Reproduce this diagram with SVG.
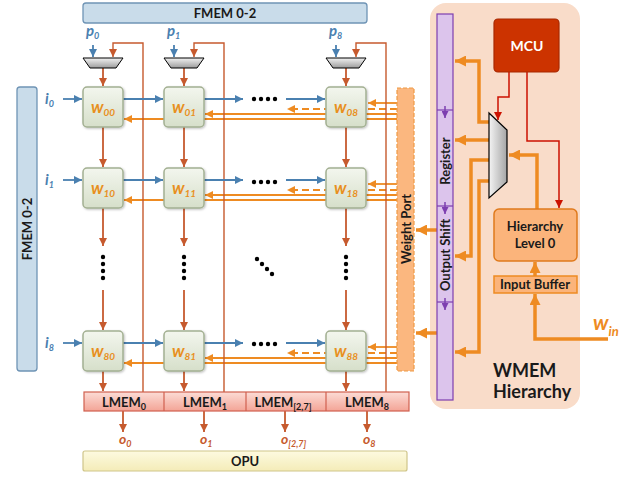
<svg xmlns="http://www.w3.org/2000/svg" width="633" height="480" viewBox="0 0 633 480">
<defs>
<style>
text{font-family:Lato,"Open Sans","Liberation Sans",sans-serif;font-weight:bold}
.bl{stroke:#4a80b0;stroke-width:1.8;fill:none}
.rd{stroke:#c65a2e;stroke-width:1.8;fill:none}
.fb{stroke:#c65a2e;stroke-width:1.4;fill:none}
.or{stroke:#ee8b22;stroke-width:1.8;fill:none}
.dash{stroke-dasharray:7,4}
.ot{stroke:#ee8b22;stroke-width:3.5;fill:none}
.mr{stroke:#cc1100;stroke-width:1.5;fill:none}
.node{fill:url(#gn);stroke:#a3b092;stroke-width:1.5;filter:url(#sh)}
.wl{fill:#e8901e;font-style:italic;font-size:17px}
.il{fill:#4a80b0;font-style:italic;font-size:15px}
.ol{fill:#c65a2e;font-style:italic;font-size:14px}
.dot{fill:#000}
.lbl{fill:#1a1a1a;font-size:13px}
</style>
<filter id="sh" x="-10%" y="-10%" width="130%" height="130%"><feDropShadow dx="1" dy="1" stdDeviation="0.8" flood-color="#000" flood-opacity="0.25"/></filter>
<linearGradient id="gn" x1="0" y1="0" x2="0" y2="1"><stop offset="0" stop-color="#f3f6ee"/><stop offset="1" stop-color="#d6dfca"/></linearGradient>
<linearGradient id="gm" x1="0" y1="0" x2="0" y2="1"><stop offset="0" stop-color="#f2f2f2"/><stop offset="1" stop-color="#9c9c9c"/></linearGradient>
<linearGradient id="gm2" x1="0" y1="0" x2="1" y2="0"><stop offset="0" stop-color="#f4f4f4"/><stop offset="1" stop-color="#a5a5a5"/></linearGradient>
<linearGradient id="gl" x1="0" y1="0" x2="0" y2="1"><stop offset="0" stop-color="#fcdcd6"/><stop offset="1" stop-color="#f3a496"/></linearGradient>
<linearGradient id="go" x1="0" y1="0" x2="0" y2="1"><stop offset="0" stop-color="#fdfae0"/><stop offset="1" stop-color="#f4ecb8"/></linearGradient>
<marker id="mb" viewBox="0 0 10 10" refX="10" refY="5" markerWidth="8" markerHeight="8" markerUnits="userSpaceOnUse" orient="auto"><path d="M0,0L10,5L0,10z" fill="#4a80b0"/></marker>
<marker id="mrr" viewBox="0 0 10 10" refX="10" refY="5" markerWidth="8" markerHeight="8" markerUnits="userSpaceOnUse" orient="auto"><path d="M0,0L10,5L0,10z" fill="#c65a2e"/></marker>
<marker id="mo" viewBox="0 0 10 10" refX="10" refY="5" markerWidth="8" markerHeight="8" markerUnits="userSpaceOnUse" orient="auto"><path d="M0,0L10,5L0,10z" fill="#ee8b22"/></marker>
<marker id="mot" viewBox="0 0 10 10" refX="10" refY="5" markerWidth="11" markerHeight="11" markerUnits="userSpaceOnUse" orient="auto"><path d="M0,0L10,5L0,10z" fill="#ee8b22"/></marker>
<marker id="mp" viewBox="0 0 10 10" refX="10" refY="5" markerWidth="7" markerHeight="7" markerUnits="userSpaceOnUse" orient="auto"><path d="M0,0L10,5L0,10z" fill="#7d3fb0"/></marker>
<marker id="mm" viewBox="0 0 10 10" refX="10" refY="5" markerWidth="8" markerHeight="8" markerUnits="userSpaceOnUse" orient="auto"><path d="M0,0L10,5L0,10z" fill="#cc1100"/></marker>
</defs>
<rect width="633" height="480" fill="#fff"/>

<g id="wmem-panel">
<rect x="430" y="3" width="150" height="406" rx="16" fill="#f9dcc9"/>
<text x="493" y="377" font-size="18" fill="#1a1a1a">WMEM</text>
<text x="493" y="398" font-size="18" fill="#1a1a1a">Hierarchy</text>
</g>

<g id="fmem-top"><rect x="83" y="3" width="284" height="20" rx="3" fill="#c9dcea" stroke="#6f94b5" stroke-width="1.3"/><text x="225" y="18" text-anchor="middle" class="lbl">FMEM 0-2</text></g>
<g id="fmem-left"><rect x="17" y="87" width="20" height="284" rx="3" fill="#c9dcea" stroke="#6f94b5" stroke-width="1.3"/><text transform="translate(32,229) rotate(-90)" text-anchor="middle" class="lbl">FMEM 0-2</text></g>

<g id="connectors">
<g class="or">
<line x1="397" y1="103" x2="368" y2="103" marker-end="url(#mo)"/>
<line x1="397" y1="109" x2="287" y2="109" class="or dash" marker-end="url(#mo)"/>
<line x1="397" y1="114" x2="205" y2="114" marker-end="url(#mo)"/>
<line x1="397" y1="119" x2="124" y2="119" marker-end="url(#mo)"/>
<line x1="397" y1="184" x2="368" y2="184" marker-end="url(#mo)"/>
<line x1="397" y1="190" x2="287" y2="190" class="or dash" marker-end="url(#mo)"/>
<line x1="397" y1="195" x2="205" y2="195" marker-end="url(#mo)"/>
<line x1="397" y1="200" x2="124" y2="200" marker-end="url(#mo)"/>
<line x1="397" y1="347" x2="368" y2="347" marker-end="url(#mo)"/>
<line x1="397" y1="353" x2="287" y2="353" class="or dash" marker-end="url(#mo)"/>
<line x1="397" y1="358" x2="205" y2="358" marker-end="url(#mo)"/>
<line x1="397" y1="363" x2="124" y2="363" marker-end="url(#mo)"/>
</g>
<path class="fb" d="M143,392V43H113V57" marker-end="url(#mrr)"/>
<path class="fb" d="M224,392V43H194V57" marker-end="url(#mrr)"/>
<path class="fb" d="M386,392V43H356V57" marker-end="url(#mrr)"/>
<line class="bl" x1="93" y1="45" x2="93" y2="57" marker-end="url(#mb)"/>
<line class="bl" x1="174" y1="45" x2="174" y2="57" marker-end="url(#mb)"/>
<line class="bl" x1="336" y1="45" x2="336" y2="57" marker-end="url(#mb)"/>
<g class="rd">
<line x1="103" y1="68" x2="103" y2="86" marker-end="url(#mrr)"/>
<line x1="103" y1="127" x2="103" y2="167" marker-end="url(#mrr)"/>
<line x1="103" y1="208" x2="103" y2="246" marker-end="url(#mrr)"/>
<line x1="103" y1="290" x2="103" y2="330" marker-end="url(#mrr)"/>
<line x1="103" y1="371" x2="103" y2="391" marker-end="url(#mrr)"/>
<line x1="184" y1="68" x2="184" y2="86" marker-end="url(#mrr)"/>
<line x1="184" y1="127" x2="184" y2="167" marker-end="url(#mrr)"/>
<line x1="184" y1="208" x2="184" y2="246" marker-end="url(#mrr)"/>
<line x1="184" y1="290" x2="184" y2="330" marker-end="url(#mrr)"/>
<line x1="184" y1="371" x2="184" y2="391" marker-end="url(#mrr)"/>
<line x1="346" y1="68" x2="346" y2="86" marker-end="url(#mrr)"/>
<line x1="346" y1="127" x2="346" y2="167" marker-end="url(#mrr)"/>
<line x1="346" y1="208" x2="346" y2="246" marker-end="url(#mrr)"/>
<line x1="346" y1="290" x2="346" y2="330" marker-end="url(#mrr)"/>
<line x1="346" y1="371" x2="346" y2="391" marker-end="url(#mrr)"/>
</g>
<g class="bl">
<line x1="63" y1="99" x2="82" y2="99" marker-end="url(#mb)"/>
<line x1="123" y1="99" x2="163" y2="99" marker-end="url(#mb)"/>
<line x1="204" y1="99" x2="243" y2="99" marker-end="url(#mb)"/>
<line x1="286" y1="99" x2="325" y2="99" marker-end="url(#mb)"/>
<line x1="63" y1="180" x2="82" y2="180" marker-end="url(#mb)"/>
<line x1="123" y1="180" x2="163" y2="180" marker-end="url(#mb)"/>
<line x1="204" y1="180" x2="243" y2="180" marker-end="url(#mb)"/>
<line x1="286" y1="180" x2="325" y2="180" marker-end="url(#mb)"/>
<line x1="63" y1="343" x2="82" y2="343" marker-end="url(#mb)"/>
<line x1="123" y1="343" x2="163" y2="343" marker-end="url(#mb)"/>
<line x1="204" y1="343" x2="243" y2="343" marker-end="url(#mb)"/>
<line x1="286" y1="343" x2="325" y2="343" marker-end="url(#mb)"/>
</g>
<g class="rd">
<line x1="123" y1="411" x2="123" y2="432" marker-end="url(#mrr)"/>
<line x1="204" y1="411" x2="204" y2="432" marker-end="url(#mrr)"/>
<line x1="285" y1="411" x2="285" y2="432" marker-end="url(#mrr)"/>
<line x1="367" y1="411" x2="367" y2="432" marker-end="url(#mrr)"/>
</g>
<g class="ot">
<path d="M489,122H479V61H455" marker-end="url(#mot)"/>
<path d="M489,140H455" marker-end="url(#mot)"/>
<path d="M489,160H471V256H455" marker-end="url(#mot)"/>
<path d="M489,181H479V352H455" marker-end="url(#mot)"/>
<path d="M537,209V155H509" marker-end="url(#mot)"/>
<path d="M437,230H416" marker-end="url(#mot)"/>
<path d="M437,333H416" marker-end="url(#mot)"/>
<path d="M535,276V262" marker-end="url(#mot)"/>
<path d="M608,339H535V294" marker-end="url(#mot)"/>
</g>
<path class="mr" d="M509,72V97H498V120" marker-end="url(#mm)"/>
<path class="mr" d="M527,72V141H559V208" marker-end="url(#mm)"/>
</g>

<g id="dots" class="dot">
<circle cx="254" cy="99" r="2.2"/><circle cx="261" cy="99" r="2.2"/><circle cx="268" cy="99" r="2.2"/><circle cx="275" cy="99" r="2.2"/>
<circle cx="254" cy="182" r="2.2"/><circle cx="261" cy="182" r="2.2"/><circle cx="268" cy="182" r="2.2"/><circle cx="275" cy="182" r="2.2"/>
<circle cx="254" cy="344" r="2.2"/><circle cx="261" cy="344" r="2.2"/><circle cx="268" cy="344" r="2.2"/><circle cx="275" cy="344" r="2.2"/>
<circle cx="103" cy="257" r="2.2"/><circle cx="103" cy="264" r="2.2"/><circle cx="103" cy="271" r="2.2"/><circle cx="103" cy="278" r="2.2"/>
<circle cx="184" cy="257" r="2.2"/><circle cx="184" cy="264" r="2.2"/><circle cx="184" cy="271" r="2.2"/><circle cx="184" cy="278" r="2.2"/>
<circle cx="346" cy="257" r="2.2"/><circle cx="346" cy="264" r="2.2"/><circle cx="346" cy="271" r="2.2"/><circle cx="346" cy="278" r="2.2"/>
<circle cx="257" cy="259" r="2.2"/><circle cx="262" cy="264" r="2.2"/><circle cx="267" cy="269" r="2.2"/><circle cx="272" cy="274" r="2.2"/>
</g>

<g id="labels">
<text x="86" y="36" class="il">p<tspan font-size="9" dy="3">0</tspan></text>
<text x="167" y="36" class="il">p<tspan font-size="9" dy="3">1</tspan></text>
<text x="329" y="36" class="il">p<tspan font-size="9" dy="3">8</tspan></text>
<text x="45" y="104" class="il">i<tspan font-size="9" dy="3">0</tspan></text>
<text x="45" y="185" class="il">i<tspan font-size="9" dy="3">1</tspan></text>
<text x="45" y="348" class="il">i<tspan font-size="9" dy="3">8</tspan></text>
<text x="119" y="444" class="ol">o<tspan font-size="9" dy="3">0</tspan></text>
<text x="200" y="444" class="ol">o<tspan font-size="9" dy="3">1</tspan></text>
<text x="281" y="444" class="ol">o<tspan font-size="9" dy="3">[2,7]</tspan></text>
<text x="363" y="444" class="ol">o<tspan font-size="9" dy="3">8</tspan></text>
<text x="593" y="330" fill="#ee8b22" font-style="italic" font-size="21">w<tspan font-size="13" dy="6">in</tspan></text>
</g>

<g id="mux0"><polygon points="83,58 123,58 116,68 90,68" fill="url(#gm)" stroke="#000" stroke-width="1"/></g>
<g id="mux1"><polygon points="164,58 204,58 197,68 171,68" fill="url(#gm)" stroke="#000" stroke-width="1"/></g>
<g id="mux8"><polygon points="326,58 366,58 359,68 333,68" fill="url(#gm)" stroke="#000" stroke-width="1"/></g>

<g id="w00"><rect class="node" x="83" y="87" width="40" height="40" rx="4"/><text x="103" y="113" text-anchor="middle" class="wl">w<tspan font-size="10" dy="3">00</tspan></text></g>
<g id="w01"><rect class="node" x="164" y="87" width="40" height="40" rx="4"/><text x="184" y="113" text-anchor="middle" class="wl">w<tspan font-size="10" dy="3">01</tspan></text></g>
<g id="w08"><rect class="node" x="326" y="87" width="40" height="40" rx="4"/><text x="346" y="113" text-anchor="middle" class="wl">w<tspan font-size="10" dy="3">08</tspan></text></g>
<g id="w10"><rect class="node" x="83" y="168" width="40" height="40" rx="4"/><text x="103" y="194" text-anchor="middle" class="wl">w<tspan font-size="10" dy="3">10</tspan></text></g>
<g id="w11"><rect class="node" x="164" y="168" width="40" height="40" rx="4"/><text x="184" y="194" text-anchor="middle" class="wl">w<tspan font-size="10" dy="3">11</tspan></text></g>
<g id="w18"><rect class="node" x="326" y="168" width="40" height="40" rx="4"/><text x="346" y="194" text-anchor="middle" class="wl">w<tspan font-size="10" dy="3">18</tspan></text></g>
<g id="w80"><rect class="node" x="83" y="331" width="40" height="40" rx="4"/><text x="103" y="357" text-anchor="middle" class="wl">w<tspan font-size="10" dy="3">80</tspan></text></g>
<g id="w81"><rect class="node" x="164" y="331" width="40" height="40" rx="4"/><text x="184" y="357" text-anchor="middle" class="wl">w<tspan font-size="10" dy="3">81</tspan></text></g>
<g id="w88"><rect class="node" x="326" y="331" width="40" height="40" rx="4"/><text x="346" y="357" text-anchor="middle" class="wl">w<tspan font-size="10" dy="3">88</tspan></text></g>

<g id="lmem">
<rect x="84" y="392" width="325" height="19" fill="url(#gl)" stroke="#d0604f" stroke-width="1.2"/>
<line x1="164" y1="392" x2="164" y2="411" stroke="#d0604f" stroke-width="1.2"/>
<line x1="246" y1="392" x2="246" y2="411" stroke="#d0604f" stroke-width="1.2"/>
<line x1="326" y1="392" x2="326" y2="411" stroke="#d0604f" stroke-width="1.2"/>
<text x="124" y="407" text-anchor="middle" class="lbl">LMEM<tspan font-size="9" dy="3">0</tspan></text>
<text x="205" y="407" text-anchor="middle" class="lbl">LMEM<tspan font-size="9" dy="3">1</tspan></text>
<text x="283" y="407" text-anchor="middle" class="lbl">LMEM<tspan font-size="9" dy="3">[2,7]</tspan></text>
<text x="367" y="407" text-anchor="middle" class="lbl">LMEM<tspan font-size="9" dy="3">8</tspan></text>
</g>

<g id="opu"><rect x="83" y="451" width="324" height="20" rx="2" fill="url(#go)" stroke="#cfc58a" stroke-width="1.2"/><text x="245" y="466" text-anchor="middle" class="lbl">OPU</text></g>

<g id="weight-port"><rect x="397" y="88" width="17" height="283" fill="#fbb77f" stroke="#ee9a45" stroke-width="1.2" stroke-dasharray="4,2"/><text transform="translate(411,229) rotate(-90)" text-anchor="middle" class="lbl">Weight Port</text></g>

<g id="output-shift-register">
<rect x="437" y="14" width="16" height="386" fill="#dcc4ec" stroke="#7d3fb0" stroke-width="1.2"/>
<line x1="437" y1="110" x2="453" y2="110" stroke="#7d3fb0" stroke-width="1.2"/>
<line x1="437" y1="206" x2="453" y2="206" stroke="#7d3fb0" stroke-width="1.2"/>
<line x1="437" y1="302" x2="453" y2="302" stroke="#7d3fb0" stroke-width="1.2"/>
<line x1="445" y1="106" x2="445" y2="118" stroke="#7d3fb0" stroke-width="1.5" marker-end="url(#mp)"/>
<line x1="445" y1="202" x2="445" y2="214" stroke="#7d3fb0" stroke-width="1.5" marker-end="url(#mp)"/>
<line x1="445" y1="298" x2="445" y2="310" stroke="#7d3fb0" stroke-width="1.5" marker-end="url(#mp)"/>
<text transform="translate(450,161) rotate(-90)" text-anchor="middle" class="lbl">Register</text>
<text transform="translate(450,255) rotate(-90)" text-anchor="middle" class="lbl">Output Shift</text>
</g>

<g id="wmux"><polygon points="489,113 507,130 507,182 489,198" fill="url(#gm2)" stroke="#000" stroke-width="1.2"/></g>
<g id="mcu"><rect x="494" y="19" width="65" height="53" rx="4" fill="#cc3300" stroke="#a82800" stroke-width="1.2"/><text x="527" y="51" text-anchor="middle" fill="#fff" font-size="14">MCU</text></g>
<g id="hier0"><rect x="494" y="209" width="83" height="52" rx="5" fill="#fbb47b" stroke="#e07a1c" stroke-width="1.5"/><text x="535" y="231" text-anchor="middle" class="lbl">Hierarchy</text><text x="535" y="248" text-anchor="middle" class="lbl">Level 0</text></g>
<g id="input-buffer"><rect x="494" y="276" width="83" height="17" fill="#fbb47b" stroke="#ee8b22" stroke-width="1.5"/><text x="535" y="289" text-anchor="middle" class="lbl">Input Buffer</text></g>
</svg>
